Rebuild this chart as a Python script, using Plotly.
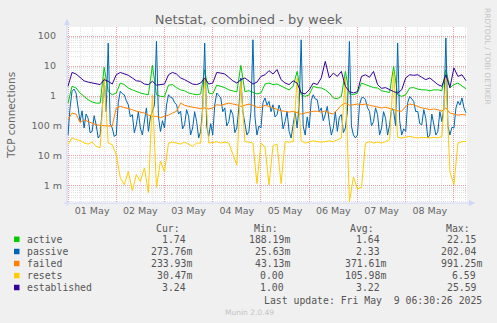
import pandas as pd
import plotly.graph_objects as go

# Two-hourly samples, starting at midnight on 1 May 2025
times = pd.date_range("2025-05-01 00:00", periods=100, freq="2h")
# passive connections jitter a lot, so they are kept hourly
times_hourly = pd.date_range("2025-05-01 00:00", periods=199, freq="1h")

active = [
    0.58, 2.1, 1.85, 1.26, 0.97, 0.75, 0.63, 0.58, 0.58, 9.0, 1.4, 1.1,
    1.26, 2.7, 2.4, 1.85, 1.6, 1.4, 1.26, 1.17, 1.1, 10.5, 1.1, 0.97,
    0.97, 2.3, 2.4, 1.9, 1.6, 1.5, 1.26, 1.17, 1.1, 1.17, 7.5, 1.26,
    1.17, 2.3, 2.1, 1.9, 1.6, 1.5, 1.36, 10.5, 1.4, 1.5, 1.36, 1.17,
    1.26, 2.5, 2.7, 2.4, 2.5, 2.1, 1.85, 1.6, 2.1, 6.6, 1.1, 0.97,
    1.1, 2.1, 1.9, 1.85, 1.6, 1.26, 0.86, 0.81, 0.97, 6.6, 1.17, 1.1,
    1.26, 2.7, 2.4, 2.1, 1.9, 1.85, 1.5, 1.4, 1.3, 9.7, 1.1, 0.97,
    1.1, 1.85, 1.9, 1.7, 1.6, 1.6, 1.5, 1.6, 1.6, 1.5, 7.5, 1.9,
    2.4, 2.7, 2.1, 1.74,
]

passive = [
    # 01 May
    0.05, 0.4, 1.43, 1.7, 1.26, 0.45, 0.14, 0.32, 0.086, 0.25, 0.18, 0.06,
    0.066, 0.22, 0.11, 0.04, 0.05, 0.35, 4.0, 0.3, 58, 0.12, 0.086, 0.045,
    # 02 May
    0.05, 0.6, 1.43, 1.2, 1.1, 0.7, 0.51, 0.2, 0.24, 0.06, 0.11, 0.3,
    0.086, 0.05, 0.14, 0.4, 0.066, 0.2, 0.31, 0.5, 66, 0.2, 0.066, 0.15,
    # 03 May
    0.086, 0.5, 1.1, 0.9, 0.86, 0.6, 0.51, 0.25, 0.31, 0.08, 0.11, 0.35,
    0.21, 0.05, 0.086, 0.3, 0.14, 0.04, 0.066, 0.4, 58, 0.1, 0.045, 0.12,
    # 04 May
    0.05, 0.5, 1.26, 1.0, 0.86, 0.3, 0.4, 0.1, 0.14, 0.35, 0.24, 0.06,
    0.086, 0.4, 4.0, 0.3, 0.14, 0.05, 0.066, 0.3, 75, 0.2, 0.05, 0.1,
    # 05 May
    0.086, 0.6, 0.86, 0.5, 0.66, 0.3, 0.51, 0.2, 0.24, 0.5, 0.31, 0.08,
    0.14, 0.3, 0.066, 0.04, 0.11, 0.3, 0.086, 0.5, 75, 0.1, 0.05, 0.2,
    # 06 May
    0.086, 0.7, 1.1, 0.8, 0.75, 0.3, 0.4, 0.15, 0.24, 0.45, 0.14, 0.05,
    0.086, 0.3, 0.066, 0.2, 0.24, 0.06, 0.086, 0.3, 66, 0.1, 0.05, 0.04,
    # 07 May
    0.05, 0.5, 0.86, 0.9, 0.75, 0.4, 0.31, 0.1, 0.14, 0.4, 0.24, 0.05,
    0.086, 0.3, 0.18, 0.05, 0.11, 0.4, 0.31, 0.1, 58, 0.15, 0.05, 0.08,
    # 08 May
    0.066, 0.6, 0.97, 0.8, 0.66, 0.3, 0.31, 0.12, 0.11, 0.35, 0.18, 0.04,
    0.05, 0.25, 0.11, 0.05, 0.066, 0.3, 0.14, 0.4, 86, 0.1, 0.05, 0.09,
    # 09 May
    0.086, 0.4, 0.66, 0.5, 0.86, 0.4, 0.27376,
]

failed = [
    0.16, 0.27, 0.25, 0.13, 0.16, 0.14, 0.13, 0.11, 0.105, 0.1, 0.1, 0.1,
    0.4, 0.45, 0.42, 0.38, 0.35, 0.31, 0.29, 0.27, 0.23, 0.21, 0.21, 0.19,
    0.21, 0.23, 0.27, 0.31, 0.58, 0.49, 0.45, 0.42, 0.4, 0.38, 0.4, 0.37,
    0.4, 0.51, 0.49, 0.54, 0.58, 0.54, 0.51, 0.45, 0.49, 0.54, 0.49, 0.42,
    0.42, 0.49, 0.45, 0.4, 0.35, 0.32, 0.31, 0.29, 0.31, 0.27, 0.25, 0.27,
    0.29, 0.31, 0.31, 0.29, 0.32, 0.27, 0.25, 0.35, 0.49, 0.58, 0.49, 0.51,
    0.54, 0.51, 0.54, 0.49, 0.45, 0.42, 0.4, 0.42, 0.38, 0.35, 0.32, 0.31,
    0.45, 0.54, 0.51, 0.45, 0.4, 0.38, 0.35, 0.37, 0.35, 0.31, 0.4, 0.27,
    0.25, 0.23, 0.24, 0.23393,
]

resets = [
    0.024, 0.04, 0.035, 0.033, 0.027, 0.025, 0.029, 0.021, 0.019, 4.0, 0.027, 0.024,
    0.011, 0.0019, 0.0011, 0.003, 0.0007, 0.0024, 0.0014, 0.004, 0.0006, 1.1, 0.0009, 0.0067,
    0.003, 0.027, 0.029, 0.027, 0.025, 0.029, 0.024, 0.021, 0.027, 0.027, 4.0, 0.027,
    0.028, 0.03, 0.027, 0.029, 0.027, 0.011, 0.005, 3.1, 0.03, 0.029, 0.027, 0.0012,
    0.027, 0.02, 0.0011, 0.022, 0.025, 0.0012, 0.03, 0.029, 0.03, 4.0, 0.032, 0.027,
    0.03, 0.032, 0.03, 0.029, 0.03, 0.032, 0.03, 0.035, 0.04, 4.0, 0.0003, 0.002,
    0.0008, 0.0009, 0.027, 0.03, 0.027, 0.029, 0.027, 0.03, 0.035, 6.6, 0.042, 0.04,
    0.042, 0.045, 0.042, 0.04, 0.042, 0.04, 0.04, 0.042, 0.04, 0.045, 4.0, 0.003,
    0.0011, 0.027, 0.03, 0.03047,
]

established = [
    2.1, 6.1, 5.4, 4.0, 3.2, 2.9, 2.7, 2.5, 2.4, 3.5, 3.1, 2.5,
    5.1, 6.1, 5.4, 4.9, 4.0, 3.2, 3.1, 2.5, 2.4, 3.1, 2.3, 2.4,
    2.5, 5.1, 6.1, 5.4, 4.0, 3.5, 2.9, 2.5, 2.4, 2.7, 4.0, 2.5,
    2.7, 6.1, 5.8, 5.4, 4.2, 3.2, 2.7, 3.5, 4.0, 3.2, 2.5, 2.9,
    4.5, 5.1, 7.0, 5.4, 7.6, 3.5, 2.7, 2.4, 3.2, 2.7, 1.26, 1.17,
    1.6, 2.7, 2.4, 4.0, 14.3, 4.0, 5.8, 4.5, 6.6, 2.1, 1.4, 1.26,
    1.4, 4.5, 5.1, 4.2, 6.6, 2.4, 1.8, 1.9, 1.6, 1.4, 1.26, 1.6,
    4.0, 5.1, 4.9, 5.1, 4.2, 3.5, 4.0, 3.1, 2.4, 2.1, 5.1, 1.9,
    8.6, 4.5, 5.1, 3.24,
]

names = ["active", "passive", "failed", "resets", "established"]
colors = ["#00CC00", "#0066B3", "#FF8000", "#FFCC00", "#330099"]

# Summary columns shown under the graph
cur_txt = ["1.74", "273.76m", "233.93m", "30.47m", "3.24"]
min_txt = ["188.19m", "25.63m", "43.13m", "0.00", "1.00"]
avg_txt = ["1.64", "2.33", "371.61m", "105.98m", "3.22"]
max_txt = ["22.15", "202.04", "991.25m", "6.59", "25.59"]

y_tickvals = [0.001, 0.01, 0.1, 1, 10, 100]
y_ticktext = ["1 m", "10 m", "100 m", "1", "10", "100"]

# Canvas geometry (pixels)
W, H = 497, 323
L, R, T, B = 67, 30, 27, 120
PW, PH = W - L - R, H - T - B


def px(x):
    return (x - L) / PW


def py(y):
    return (H - B - y) / PH


FONT = "#666666"
GRID = "rgba(150,150,150,0.26)"
MGRID = "rgba(210,70,70,0.5)"
AXIS = "#CFD6F8"

# minor grid: every 6 h except midnight, and 2..9 within each decade
x_minor = [t for t in pd.date_range("2025-04-30 00:00", "2025-05-09 12:00", freq="6h")
           if t.hour != 0]
y_minor = [d * 10.0 ** e for e in range(-4, 3) for d in range(2, 10)]

series_x = [times, times_hourly, times, times, times]
series_y = [active, passive, failed, resets, established]

fig = go.Figure()
for name, xs, vals, col in zip(names, series_x, series_y, colors):
    fig.add_trace(go.Scatter(
        x=xs, y=vals, mode="lines", name=name,
        line=dict(color=col, width=1), hoverinfo="skip", showlegend=False,
    ))

nb = "\u00a0"
fig.update_layout(
    width=W, height=H,
    margin=dict(l=L, r=R, t=T, b=B),
    paper_bgcolor="#F0F0F0", plot_bgcolor="#FFFFFF",
    showlegend=False,
    font=dict(family="DejaVu Sans", color=FONT),
    title=dict(
        text="Netstat, combined - by week",
        x=0.5, xref="container", xanchor="center",
        y=1 - 19 / H, yref="container", yanchor="middle",
        font=dict(family="DejaVu Sans", size=13, color=FONT),
    ),
    xaxis=dict(
        type="date",
        range=["2025-04-30 23:30", "2025-05-09 06:30"],
        tick0="2025-05-01", dtick=86400000,
        ticklabelmode="period", tickformat="%d %b",
        ticks="", tickfont=dict(size=9.5, color=FONT),
        showgrid=True, gridcolor=MGRID, griddash="1px,1px", gridwidth=1,
        minor=dict(tickmode="array", tickvals=x_minor, showgrid=True,
                   gridcolor=GRID, griddash="1px,1px", gridwidth=1),
        zeroline=False, showline=False,
    ),
    yaxis=dict(
        type="log", range=[-3.567, 2.3],
        tickmode="array", tickvals=y_tickvals,
        ticktext=[t if t.endswith("m") else t + nb + nb for t in y_ticktext],
        ticks="", ticklabelstandoff=4,
        tickfont=dict(size=9.5, color=FONT),
        showgrid=True, gridcolor=MGRID, griddash="1px,1px", gridwidth=1,
        minor=dict(tickmode="array", tickvals=y_minor, showgrid=True,
                   gridcolor=GRID, griddash="1px,1px", gridwidth=1),
        zeroline=False, showline=False,
    ),
)

shapes = []
# axis lines with arrow heads
shapes.append(dict(type="line", xref="paper", yref="paper",
                   x0=px(67), x1=px(67), y0=py(206), y1=py(22),
                   line=dict(color=AXIS, width=1)))
shapes.append(dict(type="line", xref="paper", yref="paper",
                   x0=px(64), x1=px(470), y0=py(203), y1=py(203),
                   line=dict(color=AXIS, width=1)))
shapes.append(dict(type="path", xref="paper", yref="paper",
                   path=f"M {px(64)},{py(25)} L {px(70)},{py(25)} L {px(67)},{py(19)} Z",
                   fillcolor=AXIS, line=dict(color=AXIS, width=0)))
shapes.append(dict(type="path", xref="paper", yref="paper",
                   path=f"M {px(469)},{py(200)} L {px(469)},{py(206)} L {px(475)},{py(203)} Z",
                   fillcolor=AXIS, line=dict(color=AXIS, width=0)))

annotations = []


def text(x, y, s, size=9.8, color="#555555", anchor="left", family="DejaVu Sans Mono", angle=0):
    annotations.append(dict(
        x=px(x), y=py(y), xref="paper", yref="paper", text=s, showarrow=False,
        xanchor=anchor, yanchor="middle", textangle=angle,
        font=dict(family=family, size=size, color=color), borderpad=0,
    ))


# y-axis title
text(11, 115, "TCP connections", size=10.5, color=FONT, anchor="center",
     family="DejaVu Sans", angle=-90)

# watermark on the right edge
text(488, 56, "RRDTOOL / TOBI OETIKER", size=7.5, color="#C4C4C4", anchor="center",
     family="DejaVu Sans", angle=90)

# legend header
col_right = [193, 291, 387, 483]
for head, xr in zip(["Cur:", "Min:", "Avg:", "Max:"], col_right):
    text(xr - 12, 228, head, anchor="right")

row_y = [239.3, 251.5, 263.5, 275.6, 287.5]
for i, name in enumerate(names):
    ry = row_y[i]
    shapes.append(dict(type="rect", xref="paper", yref="paper",
                       x0=px(14), x1=px(19.5), y0=py(ry + 2.75), y1=py(ry - 2.75),
                       fillcolor=colors[i], line=dict(width=0)))
    text(26, ry, name)
    for col, xr in zip([cur_txt, min_txt, avg_txt, max_txt], col_right):
        s = col[i]
        if not s.endswith("m"):
            s = s + nb
        text(xr, ry, s, anchor="right")

text(483, 300, "Last update: Fri May " + nb + "9 06:30:26 2025", anchor="right")
text(249, 312, "Munin 2.0.49", size=7.5, color="#C4C4C4", anchor="center", family="DejaVu Sans")

fig.update_layout(shapes=shapes, annotations=annotations)
fig.write_html("out.html")
